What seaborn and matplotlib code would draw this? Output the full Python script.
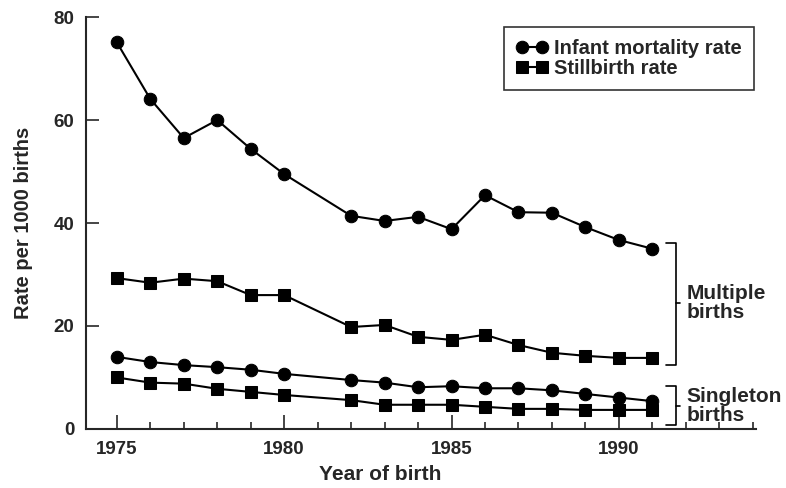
import seaborn as sns
import matplotlib.pyplot as plt
import pandas as pd
from matplotlib.ticker import MultipleLocator

years = [1975, 1976, 1977, 1978, 1979, 1980, 1982, 1983, 1984, 1985, 1986, 1987, 1988, 1989, 1990, 1991]

# multiple births
multiple_infant = [75.1, 64.1, 56.5, 60.0, 54.4, 49.5, 41.4, 40.4, 41.2, 38.8, 45.4, 42.1, 42.0, 39.2, 36.7, 35.0]
multiple_still = [29.3, 28.4, 29.2, 28.7, 26.0, 26.0, 19.8, 20.2, 17.9, 17.3, 18.3, 16.3, 14.8, 14.2, 13.8, 13.8]

# singleton births
single_infant = [14.0, 13.0, 12.4, 12.0, 11.5, 10.7, 9.5, 9.0, 8.1, 8.3, 7.9, 7.9, 7.5, 6.8, 6.1, 5.4]
single_still = [10.0, 9.0, 8.8, 7.8, 7.2, 6.6, 5.6, 4.7, 4.7, 4.7, 4.3, 3.9, 3.9, 3.7, 3.7, 3.7]

rows = []
for group, infant, still in [("Multiple", multiple_infant, multiple_still),
                             ("Singleton", single_infant, single_still)]:
    for yr, a, b in zip(years, infant, still):
        rows.append({"year": yr, "group": group, "rate": "Infant mortality rate", "value": a})
        rows.append({"year": yr, "group": group, "rate": "Stillbirth rate", "value": b})
df = pd.DataFrame(rows)

sns.set_style("ticks")
plt.rcParams['font.family'] = ['Liberation Sans', 'DejaVu Sans']
plt.rcParams['font.weight'] = 'bold'

fig = plt.figure(figsize=(7.86, 4.88), dpi=100)
ax = fig.add_axes([0.109, 0.121, 0.853, 0.844])

sns.lineplot(data=df, x="year", y="value", style="rate", units="group", estimator=None,
             color="black", markers={"Infant mortality rate": "o", "Stillbirth rate": "s"},
             dashes=False, markersize=9, markeredgecolor="black", linewidth=1.5, ax=ax)

ax.set_xlim(1974.07, 1994.1)
ax.set_ylim(0, 80)
ax.xaxis.set_major_locator(MultipleLocator(5))
ax.xaxis.set_minor_locator(MultipleLocator(1))
ax.yaxis.set_major_locator(MultipleLocator(20))
ax.tick_params(axis="x", which="major", direction="in", length=10, width=1.2, labelsize=13.5, pad=9)
ax.tick_params(axis="x", which="minor", direction="in", length=5, width=1.2)
ax.tick_params(axis="y", which="major", direction="in", length=9, width=1.2, labelsize=13.5, pad=8)
sns.despine(ax=ax)
for s in ["left", "bottom"]:
    ax.spines[s].set_linewidth(1.5)

ax.set_xlabel("Year of birth", fontsize=15, fontweight="bold")
ax.xaxis.set_label_coords(0.44, -0.088)
ax.set_ylabel("Rate per 1000 births", fontsize=14.5, fontweight="bold")
ax.yaxis.set_label_coords(-0.078, 0.5)

leg = ax.legend(loc="upper right", bbox_to_anchor=(1.012, 1.0), numpoints=2, fontsize=14.5,
                frameon=True, fancybox=False, edgecolor="black", handlelength=1.6,
                handletextpad=0.3, borderpad=0.6, labelspacing=0.05)
leg.get_frame().set_linewidth(1.2)
for t in leg.get_texts():
    t.set_fontweight("bold")

# brackets for groups
def bracket(y0, y1, ymid, label):
    x0, x1 = 1991.42, 1991.72
    ax.plot([x0, x1, x1, x0], [y1, y1, y0, y0], color="black", lw=1.2, clip_on=False)
    ax.plot([x1, x1 + 0.12], [ymid, ymid], color="black", lw=1.2, clip_on=False)
    ax.text(x1 + 0.3, ymid, label, fontsize=15, fontweight="bold", va="center", ha="left",
            linespacing=1.0)

bracket(12.5, 36.2, 24.5, "Multiple\nbirths")
bracket(0.7, 8.3, 4.4, "Singleton\nbirths")

fig.savefig("out.png", dpi=100)
